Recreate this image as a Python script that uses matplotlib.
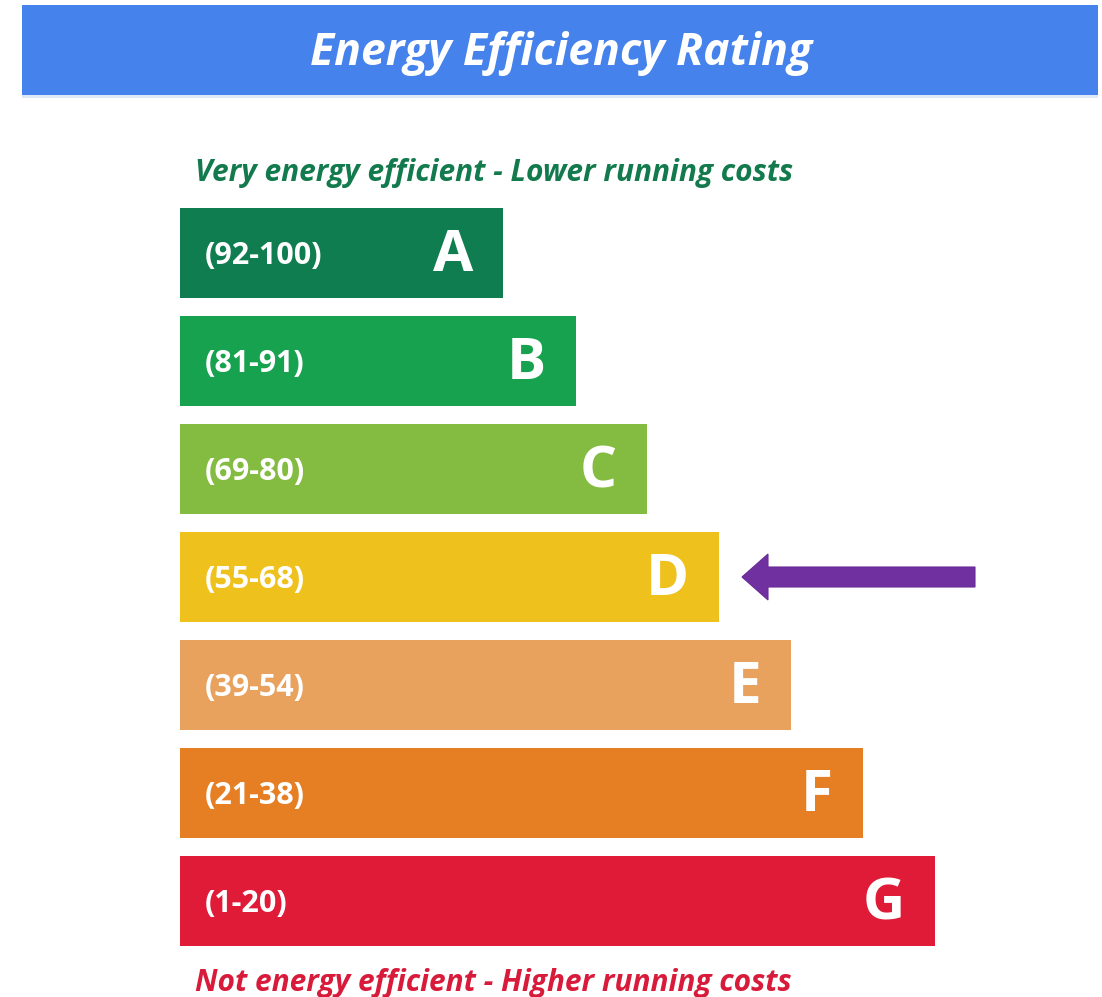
import matplotlib
matplotlib.use("Agg")
import matplotlib.pyplot as plt
from matplotlib.patches import Rectangle

# ---- data ----
ratings = ["A", "B", "C", "D", "E", "F", "G"]
ranges = ["(92-100)", "(81-91)", "(69-80)", "(55-68)", "(39-54)", "(21-38)", "(1-20)"]
bar_lengths = [323, 396, 467, 539, 611, 683, 755]
colors = ["#0f7d4f", "#17a24f", "#84bc41", "#efc11c", "#e8a25e", "#e67e23", "#e01b37"]
current_rating = "D"
title = "Energy Efficiency Rating"
top_note = "Very energy efficient - Lower running costs"
bottom_note = "Not energy efficient - Higher running costs"

W, H = 1102, 997
fig = plt.figure(figsize=(W / 100, H / 100), dpi=100)
fig.patch.set_facecolor("white")

# title banner
fig.patches.append(Rectangle((22 / W, 1 - 95 / H), (1098 - 22) / W, 90 / H,
                             transform=fig.transFigure, facecolor="#4582ec",
                             edgecolor="none", zorder=0))
fig.patches.append(Rectangle((22 / W, 1 - 98 / H), (1098 - 22) / W, 3 / H,
                             transform=fig.transFigure, facecolor="#dfe9f8",
                             edgecolor="none", zorder=0))
fig.text(561 / W, 1 - 54 / H, title, ha="center", va="center", color="white",
         fontsize=32, fontweight="bold", fontstyle="italic", family="Open Sans")

# bars axes: x in pixel-like units starting at bar origin, y in category index
ax = fig.add_axes([180 / W, 0, (W - 180) / W, 1])
ax.set_xlim(0, W - 180)
ax.set_ylim((H - 253) / 108, -253 / 108)
ax.axis("off")

ypos = list(range(len(ratings)))
ax.barh(ypos, bar_lengths, height=90 / 108, color=colors, left=0, zorder=2)

for y, r, rg, L in zip(ypos, ratings, ranges, bar_lengths):
    ax.text(25, y + 0.03, rg, ha="left", va="center", color="white", fontsize=22,
            fontweight="bold", family="Open Sans", zorder=3)
    ax.text(L - 30, y + 0.03, r, ha="right", va="center", color="white", fontsize=42,
            fontweight="bold", family="Open Sans", zorder=3)

ax.text(15, -0.74, top_note, ha="left", va="center", color="#127a4c", fontsize=21.5,
        fontweight="bold", fontstyle="italic", family="Open Sans")
ax.text(15, 6.76, bottom_note, ha="left", va="center", color="#d81b3a", fontsize=21.5,
        fontweight="bold", fontstyle="italic", family="Open Sans")

# pointer arrow to current rating
i = ratings.index(current_rating)
tip = bar_lengths[i] + 23
tail = bar_lengths[i] + 256
ax.arrow(tail, i, tip - tail, 0, width=20 / 108, head_width=46 / 108,
         head_length=26, length_includes_head=True, facecolor="#7030a0",
         edgecolor="#6a2c99", linewidth=0.8, zorder=3)

fig.savefig("out.png", dpi=100, facecolor="white")
